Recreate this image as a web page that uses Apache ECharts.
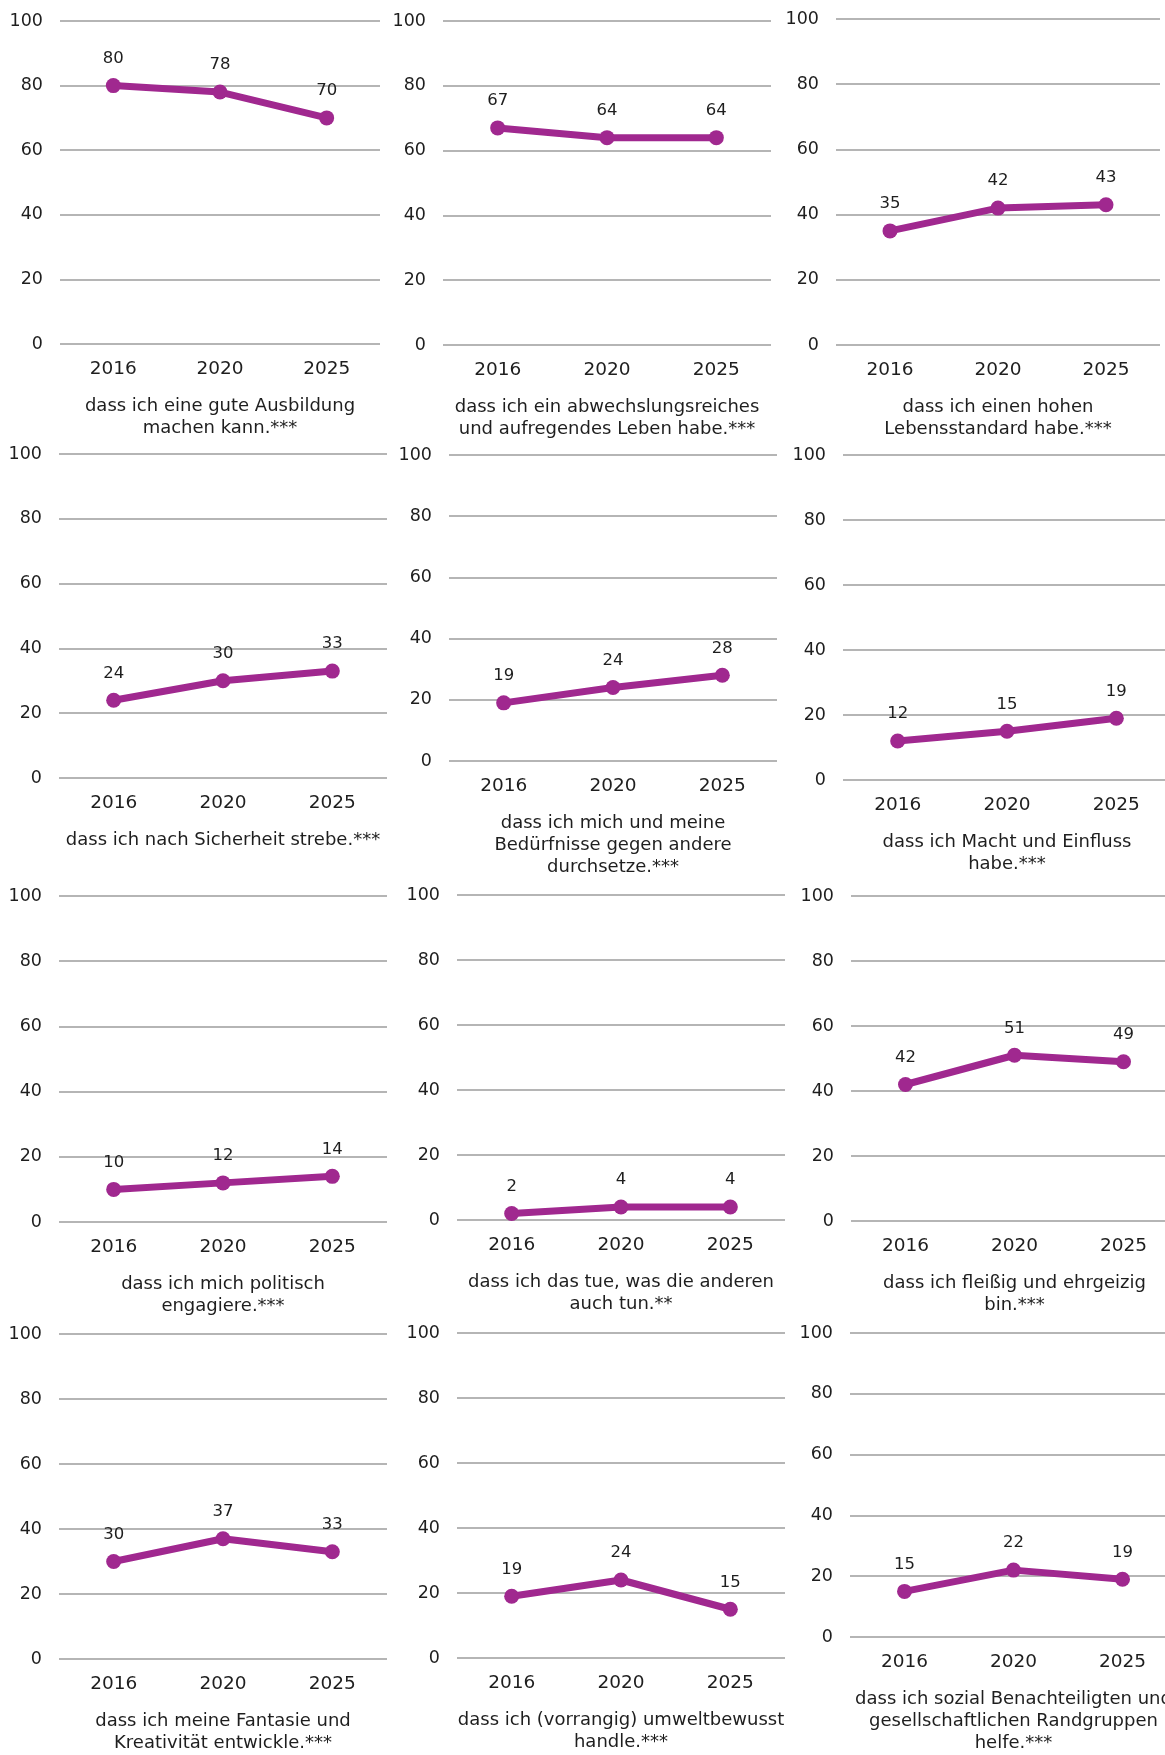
<!DOCTYPE html>
<html>
<head>
<meta charset="utf-8">
<script src="https://cdn.jsdelivr.net/npm/echarts@6/dist/echarts.min.js"></script>
<style>
  html, body { margin: 0; padding: 0; background: #ffffff; overflow: hidden; }
  #chart { width: 1200px; height: 1755px; }
</style>
</head>
<body>
<div id="chart"></div>
<script>
// ---- data ----
var categories = ['2016', '2020', '2025'];
var yTicks = [0, 20, 40, 60, 80, 100];

var ausbildung   = [80, 78, 70];
var abwechslung  = [67, 64, 64];
var lebensstd    = [35, 42, 43];
var sicherheit   = [24, 30, 33];
var durchsetzen  = [19, 24, 28];
var macht        = [12, 15, 19];
var politisch    = [10, 12, 14];
var anderen      = [2, 4, 4];
var fleissig     = [42, 51, 49];
var fantasie     = [30, 37, 33];
var umwelt       = [19, 24, 15];
var sozial       = [15, 22, 19];

var titles = [
  'dass ich eine gute Ausbildung\nmachen kann.***',
  'dass ich ein abwechslungsreiches\nund aufregendes Leben habe.***',
  'dass ich einen hohen\nLebensstandard habe.***',
  'dass ich nach Sicherheit strebe.***',
  'dass ich mich und meine\nBedürfnisse gegen andere\ndurchsetze.***',
  'dass ich Macht und Einfluss\nhabe.***',
  'dass ich mich politisch\nengagiere.***',
  'dass ich das tue, was die anderen\nauch tun.**',
  'dass ich fleißig und ehrgeizig\nbin.***',
  'dass ich meine Fantasie und\nKreativität entwickle.***',
  'dass ich (vorrangig) umweltbewusst\nhandle.***',
  'dass ich sozial Benachteiligten und\ngesellschaftlichen Randgruppen\nhelfe.***'
];
var panelValues = [ausbildung, abwechslung, lebensstd, sicherheit, durchsetzen, macht,
                   politisch, anderen, fleissig, fantasie, umwelt, sozial];

// ---- layout (pixel boxes of each plot area) ----
var layout = [
  {left: 60,  top: 21,   width: 320, height: 323},
  {left: 443, top: 21,   width: 328, height: 324},
  {left: 836, top: 19,   width: 324, height: 326},
  {left: 59,  top: 454,  width: 328, height: 324},
  {left: 449, top: 455,  width: 328, height: 306},
  {left: 843, top: 455,  width: 328, height: 325},
  {left: 59,  top: 896,  width: 328, height: 326},
  {left: 457, top: 895,  width: 328, height: 325},
  {left: 851, top: 896,  width: 327, height: 325},
  {left: 59,  top: 1334, width: 328, height: 326},
  {left: 457, top: 1333, width: 328, height: 325},
  {left: 850, top: 1333, width: 327, height: 308}
];

var FONT = 'DejaVu Sans';
var TEXT = '#1e1e1e';
var LINE = '#a0288f';
var GRIDC = '#9c9c9c';

var grids = [], xAxes = [], yAxes = [], series = [];
layout.forEach(function (b, i) {
  grids.push({left: b.left, top: b.top, width: b.width, height: b.height, containLabel: false});
  xAxes.push({
    type: 'category', gridIndex: i, data: categories, boundaryGap: true,
    axisLine: {show: false}, axisTick: {show: false},
    axisLabel: {color: TEXT, fontFamily: FONT, fontSize: 18.5, margin: 16},
    name: titles[i], nameLocation: 'middle', nameGap: 51,
    nameTextStyle: {color: TEXT, fontFamily: FONT, fontSize: 18, lineHeight: 22, align: 'center'}
  });
  yAxes.push({
    type: 'value', gridIndex: i, min: yTicks[0], max: yTicks[yTicks.length - 1], interval: 20,
    axisLine: {show: false}, axisTick: {show: false},
    axisLabel: {color: TEXT, fontFamily: FONT, fontSize: 17.5, margin: 17},
    splitLine: {show: true, lineStyle: {color: GRIDC, width: 1.5}}
  });
  series.push({
    type: 'line', xAxisIndex: i, yAxisIndex: i, data: panelValues[i],
    symbol: 'circle', symbolSize: 15,
    lineStyle: {color: LINE, width: 7},
    itemStyle: {color: LINE},
    label: {show: true, position: 'top', distance: 11, color: TEXT, fontFamily: FONT, fontSize: 16.5},
    animation: false
  });
});

var chart = echarts.init(document.getElementById('chart'), null, {renderer: 'canvas'});
chart.setOption({
  backgroundColor: '#ffffff',
  animation: false,
  grid: grids,
  xAxis: xAxes,
  yAxis: yAxes,
  series: series
});
</script>
</body>
</html>
